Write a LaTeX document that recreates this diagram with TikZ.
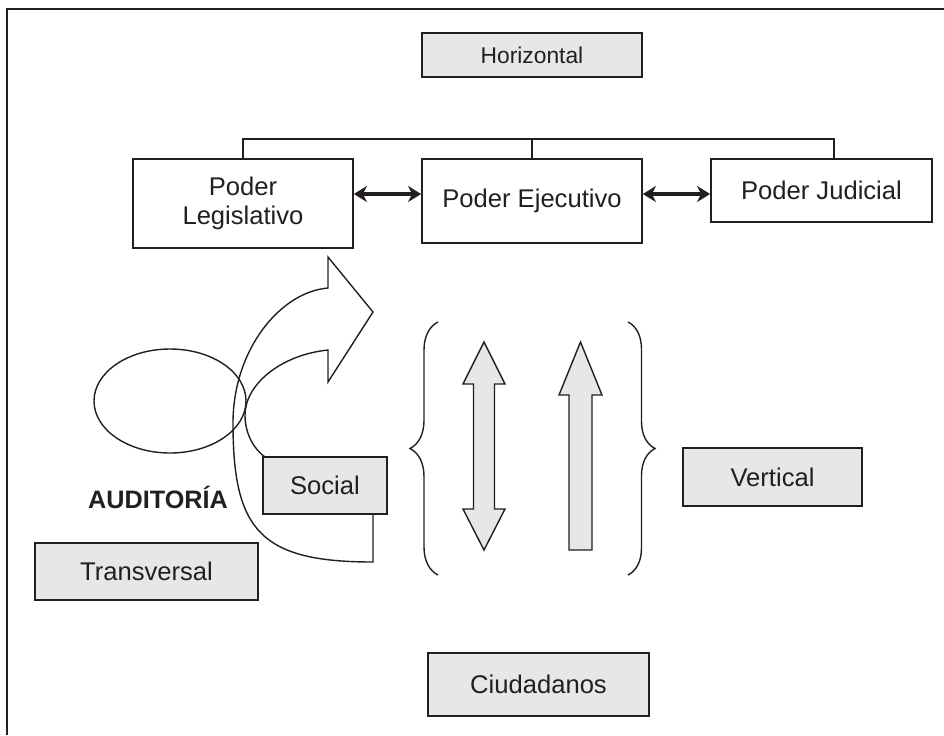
\documentclass[tikz,border=0pt]{standalone}
\usepackage{fontspec}
\setmainfont{Liberation Sans}
\usetikzlibrary{shapes.geometric, arrows.meta, positioning, decorations.pathreplacing, calc}
\definecolor{inkgray}{RGB}{35, 31, 32}
\definecolor{boxgray}{RGB}{230, 231, 232}

\begin{document}
\begin{tikzpicture}[
    x=0.5pt, y=-0.5pt,
    power/.style={rectangle, draw=inkgray, line width=0.9pt, fill=white, text=inkgray, inner sep=0pt, align=center, font=\fontsize{12.8}{14.5}\selectfont},
    levelbox/.style={rectangle, draw=inkgray, line width=0.9pt, fill=boxgray, text=inkgray, inner sep=0pt, font=\fontsize{12.8}{14.5}\selectfont},
    link/.style={{Stealth[length=6.5pt,width=8pt,inset=2pt]}-{Stealth[length=6.5pt,width=8pt,inset=2pt]}, line width=1.7pt, draw=inkgray},
    treeline/.style={line width=1pt, draw=inkgray},
    outline/.style={line width=0.7pt, draw=inkgray},
    bigarrow/.style={line width=0.7pt, draw=inkgray, fill=boxgray, line join=miter}
]
\useasboundingbox (0,0) rectangle (944,735);

% Frame
\draw [line width=1pt, inkgray] (944,9) -- (7,9) -- (7,735);

% Horizontal level
\node (horizontal) [levelbox, minimum width=110pt, minimum height=22pt, font=\fontsize{11.4}{13}\selectfont] at (532,55) {Horizontal};

\node (legis) [power, minimum width=110pt, minimum height=44.5pt] at (243,203.5) {Poder\\Legislativo};
\node (ejec) [power, minimum width=110pt, minimum height=42pt] at (532,201) {Poder Ejecutivo};
\node (judic) [power, minimum width=110.5pt, minimum height=31.5pt] at (821.5,190.5) {Poder Judicial};

\coordinate (treetop) at (0,139);
\coordinate (lnk) at (0,194);
\draw [treeline] (legis.north) |- (treetop -| 834,0) -- ([xshift=6.25pt]judic.north);
\draw [treeline] (ejec.north) -- (ejec.north |- treetop);
\draw [link] (legis.east |- lnk) -- (ejec.west |- lnk);
\draw [link] (ejec.east |- lnk) -- (judic.west |- lnk);

% Social audit loop
\node (loop) [ellipse, outline, minimum width=76pt, minimum height=52pt, inner sep=0pt] at (170,401) {};
\draw [outline] (373,514) -- (373,562)
    .. controls (260,562) and (233,530) .. (233,423)
    .. controls (233,350) and (280,292) .. (328,288)
    -- (328,257) -- (373,312) -- (328,382) -- (328,350)
    .. controls (280,355) and (245,385) .. (245,415)
    .. controls (245,435) and (255,450) .. (265,457)
    -- (300,490) -- (373,490) -- cycle;
\node (social) [levelbox, minimum width=62pt, minimum height=28.5pt] at (325,485.5) {Social};
\node (auditoria) [text=inkgray, font=\bfseries\fontsize{12.6}{15}\selectfont] at (158,497) {AUDITORÍA};
\node (transversal) [levelbox, minimum width=111.5pt, minimum height=28.5pt] at (146.5,571.5) {Transversal};

% Vertical level
\draw [outline, decorate, decoration={brace, amplitude=14pt}] (438,575) -- (438,322);
\draw [outline, decorate, decoration={brace, amplitude=13.5pt}] (628,322) -- (628,575);
\draw [bigarrow] (484,342) -- (505,384) -- (494.5,384) -- (494.5,509) -- (505,509) -- (484,550)
    -- (463,509) -- (473.5,509) -- (473.5,384) -- (463,384) -- cycle;
\draw [bigarrow] (580.5,342) -- (602,395) -- (592,395) -- (592,550) -- (569,550) -- (569,395)
    -- (559,395) -- cycle;
\node (vertical) [levelbox, minimum width=89.5pt, minimum height=29pt] at (772.5,477) {Vertical};

\node (ciudadanos) [levelbox, minimum width=110.5pt, minimum height=31.5pt] at (538.5,684.5) {Ciudadanos};

\end{tikzpicture}
\end{document}
